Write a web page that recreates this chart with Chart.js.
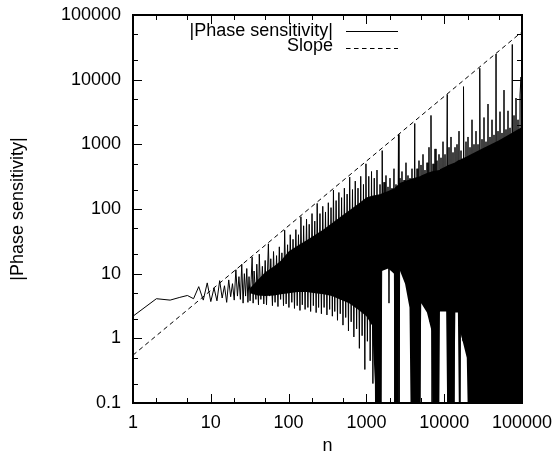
<!DOCTYPE html>
<html>
<head>
<meta charset="utf-8">
<title>|Phase sensitivity| vs n</title>
<script src="https://cdn.jsdelivr.net/npm/chart.js@4/dist/chart.umd.min.js"></script>
<style>
  html, body { margin: 0; padding: 0; background: #fff; }
  canvas { display: block; }
</style>
</head>
<body>
<canvas id="chart" width="555" height="459"></canvas>
<script>
// tick labels
const xTickValues = [1, 10, 100, 1000, 10000, 100000];
const yTickValues = [0.1, 1, 10, 100, 1000, 10000, 100000];

// |Phase sensitivity| (big spikes sit at Fibonacci n)
const phaseN = [
  1, 2, 3, 4, 5, 6, 7, 8, 9, 10, 11, 12, 13, 14, 15, 16, 17, 18, 19, 20,
  21, 22, 23, 24, 25, 26, 27, 28, 29, 30,
  31, 32, 33, 34, 35, 36, 38, 39, 41, 42, 44, 46, 48, 50, 52, 55, 57, 59, 62, 64,
  67, 70, 73, 76, 79, 82, 86, 89, 93, 97, 101, 105, 110, 114, 119, 124, 129, 134, 140, 144,
  150, 156, 163, 170, 177, 184, 192, 200, 208, 217, 226, 233, 243, 253, 264, 275, 286, 298, 311, 324,
  337, 351, 365, 377, 392, 408, 425, 443, 461, 480, 500, 521, 542, 565, 588, 610, 637, 663, 690, 719,
  749, 780, 812, 846, 881, 917, 955, 987, 1030, 1073, 1118, 1164, 1212, 1262, 1314, 1368, 1425,
  1452, 1496, 1541, 1597, 1637, 1684, 1734, 1786, 1840, 1895, 1952, 2010, 2071, 2133, 2197, 2263,
  2331, 2401, 2473, 2584, 2624, 2703, 2784, 2868, 2954, 3043, 3134, 3228, 3325, 3425, 3528, 3634,
  3743, 3856, 3972, 4181, 4340, 4471, 4605, 4743, 4886, 5033, 5184, 5340, 5500, 5665, 5835, 6011,
  6191, 6377, 6569, 6765, 6969, 7179, 7394, 7617, 7845, 8081, 8324, 8575, 8832, 9098, 9370, 9652,
  9942, 10240, 10548, 10946, 11191, 11528, 11874, 12231, 12598, 12977, 13366, 13768, 14181, 14608,
  15046, 15498, 15964, 16444, 16937, 17447, 17711, 18510, 19066, 19639, 20229, 20837, 21463, 22108,
  22772, 23456, 24160, 24886, 25634, 26404, 27197, 28014, 28657, 29724, 30616, 31536, 32483, 33459,
  34464, 35499, 36565, 37664, 38796, 39961, 41162, 42398, 43672, 44985, 46368, 47726, 49161, 50637,
  52160, 53726, 55341, 57003, 58716, 60480, 62297, 64168, 66096, 68082, 70128, 72234, 75025, 76640,
  78943, 81314, 83757, 86273, 88865, 91535, 94286, 97118, 100000
];
const phaseValue = [
  2.2, 4.1, 3.9, 4.3, 4.6, 4.1, 6.3, 3.9, 7.2, 3.7, 6.0, 3.8, 7.8, 4.2, 6.5, 3.6, 8.0, 4.4, 7.0, 3.9,
  11.5, 4.5, 9, 4.0, 14, 3.5, 10, 4.5, 12, 3.6,
  9, 3.8, 8, 18, 3.5, 11, 4.0, 14, 3.3, 20, 4.0, 13, 3.4, 16, 3.3, 29, 4.5, 17, 3.2, 22,
  3.6, 19, 3.1, 26, 4.0, 21, 3.2, 47, 3.4, 28, 3.0, 40, 3.6, 34, 2.9, 48, 3.2, 40, 2.7, 76,
  3.3, 55, 2.8, 70, 3.0, 58, 2.6, 85, 3.2, 65, 2.5, 122, 3.0, 85, 2.4, 110, 3.0, 90, 2.3, 125,
  2.8, 105, 2.2, 196, 2.6, 135, 1.9, 180, 2.4, 150, 1.6, 210, 2.1, 170, 1.3, 312, 1.8, 200, 1.05, 270,
  1.4, 210, 0.7, 320, 1.1, 240, 0.33, 500, 0.9, 320, 0.45, 380, 0.2, 300, 0.05, 400, 0.05,
  0.05, 240, 0.05, 800, 16, 260, 14, 330, 18, 220, 3.5, 300, 15, 210, 13, 420,
  0.05, 240, 0.05, 1420, 0.05, 300, 14, 380, 11, 280, 9, 520, 7.5, 330, 5, 300,
  4.5, 420, 0.05, 2100, 0.05, 420, 0.05, 560, 0.05, 480, 4.2, 700, 3.8, 400, 3.2, 520,
  2.6, 900, 1.8, 2800, 0.05, 500, 0.05, 850, 0.05, 560, 0.05, 700, 2.8, 620, 2.8, 1100,
  3, 700, 2.8, 5900, 0.05, 900, 0.05, 1300, 0.05, 750, 0.05, 900, 2.8, 1000,
  2.8, 1600, 0.05, 800, 1.1, 0.9, 7800, 0.8, 1100, 0.6, 1300, 0.05, 900, 0.05,
  2400, 0.05, 1000, 0.05, 1600, 0.05, 1000, 0.05, 15000, 0.05, 1200, 0.05, 2600, 0.05,
  1100, 0.05, 4200, 0.05, 1300, 0.05, 2400, 0.05, 1400, 0.05, 25000, 0.05, 1600, 0.05,
  3200, 0.05, 1500, 0.05, 6900, 0.05, 1700, 0.05, 3300, 0.05, 1800, 0.05, 35000, 0.05,
  2800, 0.05, 5200, 0.05, 2400, 0.05, 5800, 11000, 0.05
];

// solid black core of the oscillation (upper / lower edge of the dense band)
const coreN = [
  32, 40, 50, 65, 80, 100, 130, 170, 220, 280, 360, 460, 600, 780, 1000, 1180, 1330, 1540,
  1580, 1910, 2270, 2330, 2570, 2630, 3140, 3580, 3690, 4890, 5070, 6000, 6880, 7030, 8670,
  8820, 10600, 10900, 13500, 13900, 15000, 15400, 16000, 16300, 19500, 20000, 30000, 50000,
  70000, 100000
];
const coreTop = [
  6, 8, 10.5, 13, 16, 22, 27, 33, 40, 48, 60, 75, 95, 120, 150, 160, 165, 170,
  175, 190, 210, 215, 240, 250, 270, 285, 290, 320, 330, 360, 380, 385, 400,
  410, 460, 470, 520, 530, 560, 570, 580, 590, 650, 660, 850, 1150,
  1450, 1850
];
const coreBottom = [
  5, 4.6, 4.5, 4.6, 4.8, 5, 5.2, 5.2, 5, 4.8, 4.5, 4, 3.5, 2.8, 2.2, 1.6, 0.1, 0.1,
  11, 12, 10, 0.1, 0.1, 12, 7, 3, 0.1, 0.1, 3.5, 2.5, 1.3, 0.1, 0.1,
  2.6, 2.6, 0.1, 0.1, 2.5, 2.5, 0.1, 0.1, 1.2, 0.5, 0.1, 0.1, 0.1,
  0.1, 0.1
];

// dashed reference slope
const slopeN = [1, 100000];
const slopeValue = [0.55, 55000];

const FONT = 'Liberation Sans, Arial, Helvetica, sans-serif';

const toPoints = (xs, ys) => xs.map((v, i) => ({ x: v, y: ys[i] }));

// drop the label overhang padding so the plot box sits where the layout padding says
const noScalePadding = scale => {
  scale.paddingLeft = 0;
  scale.paddingRight = 0;
  scale.paddingTop = 0;
  scale.paddingBottom = 0;
};

// gnuplot style frame with inward ticks on all four sides, plus the key
const frameAndKey = {
  id: 'frameAndKey',
  afterDatasetsDraw(chart) {
    const { ctx, chartArea: a, scales: { x, y } } = chart;
    ctx.save();
    ctx.strokeStyle = '#000';
    ctx.lineWidth = 1;
    ctx.setLineDash([]);
    ctx.beginPath();
    xTickValues.forEach(v => {
      [[v, 9], [v * 2, 5], [v * 5, 5]].forEach(([t, len]) => {
        if (t > x.max) return;
        const px = Math.round(x.getPixelForValue(t)) + 0.5;
        ctx.moveTo(px, a.bottom); ctx.lineTo(px, a.bottom - len);
        ctx.moveTo(px, a.top); ctx.lineTo(px, a.top + len);
      });
    });
    yTickValues.forEach(v => {
      [[v, 9], [v * 2, 5], [v * 5, 5]].forEach(([t, len]) => {
        if (t > y.max) return;
        const py = Math.round(y.getPixelForValue(t)) + 0.5;
        ctx.moveTo(a.left, py); ctx.lineTo(a.left + len, py);
        ctx.moveTo(a.right, py); ctx.lineTo(a.right - len, py);
      });
    });
    ctx.stroke();
    ctx.lineWidth = 2;
    ctx.strokeRect(a.left, a.top, a.right - a.left, a.bottom - a.top);

    // key
    ctx.fillStyle = '#000';
    ctx.font = '18px ' + FONT;
    ctx.textAlign = 'right';
    ctx.textBaseline = 'middle';
    ctx.fillText('|Phase sensitivity|', 333, 31);
    ctx.fillText('Slope', 333, 46.5);
    ctx.lineWidth = 1;
    ctx.beginPath();
    ctx.moveTo(346, 31.5); ctx.lineTo(398, 31.5);
    ctx.stroke();
    ctx.setLineDash([4.5, 3.5]);
    ctx.beginPath();
    ctx.moveTo(346, 48.5); ctx.lineTo(398, 48.5);
    ctx.stroke();
    ctx.restore();
  }
};

new Chart(document.getElementById('chart'), {
  type: 'line',
  data: {
    datasets: [
      {
        label: 'core',
        data: toPoints(coreN, coreTop),
        borderWidth: 0,
        pointRadius: 0,
        backgroundColor: '#000',
        fill: '+1'
      },
      {
        label: 'core bottom',
        data: toPoints(coreN, coreBottom),
        borderWidth: 0,
        pointRadius: 0,
        fill: false
      },
      {
        label: '|Phase sensitivity|',
        data: toPoints(phaseN, phaseValue),
        borderColor: '#000',
        borderWidth: 1,
        pointRadius: 0,
        tension: 0,
        fill: false
      },
      {
        label: 'Slope',
        data: toPoints(slopeN, slopeValue),
        borderColor: '#000',
        borderWidth: 1,
        borderDash: [4.5, 3.5],
        pointRadius: 0,
        fill: false
      }
    ]
  },
  options: {
    responsive: false,
    devicePixelRatio: 1,
    animation: false,
    layout: { padding: { top: 15, right: 33, bottom: 0, left: 0 } },
    plugins: {
      legend: { display: false },
      tooltip: { enabled: false }
    },
    scales: {
      x: {
        type: 'logarithmic',
        min: 1,
        max: 100000,
        grid: { display: false, drawTicks: false },
        border: { display: false },
        afterBuildTicks: scale => { scale.ticks = xTickValues.map(v => ({ value: v })); },
        afterFit: scale => { scale.height = 56; noScalePadding(scale); },
        ticks: {
          autoSkip: false,
          maxRotation: 0,
          padding: 9.5,
          color: '#000',
          font: { family: FONT, size: 18 },
          callback: v => String(v)
        },
        title: {
          display: true,
          text: 'n',
          color: '#000',
          font: { family: FONT, size: 18 },
          padding: { top: 0, bottom: 2 }
        }
      },
      y: {
        type: 'logarithmic',
        min: 0.1,
        max: 100000,
        grid: { display: false, drawTicks: false },
        border: { display: false },
        afterBuildTicks: scale => { scale.ticks = yTickValues.map(v => ({ value: v })); },
        afterFit: scale => { scale.width = 133; noScalePadding(scale); },
        ticks: {
          autoSkip: false,
          padding: 12,
          color: '#000',
          font: { family: FONT, size: 18 },
          callback: v => String(v)
        },
        title: {
          display: true,
          text: '|Phase sensitivity|',
          color: '#000',
          font: { family: FONT, size: 18 },
          padding: { top: 7, bottom: 0 }
        }
      }
    }
  },
  plugins: [frameAndKey]
});
</script>
</body>
</html>
